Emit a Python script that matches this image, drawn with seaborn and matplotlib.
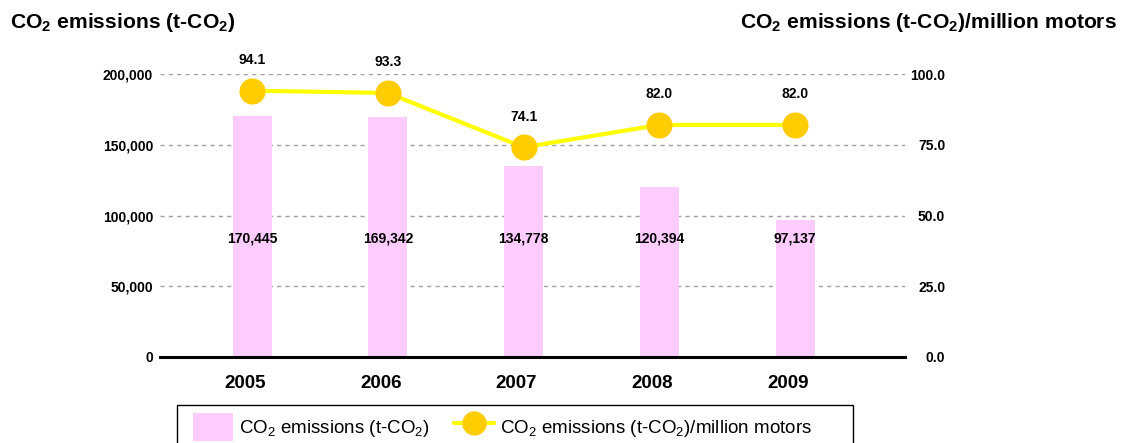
import matplotlib
matplotlib.use("Agg")
import matplotlib.pyplot as plt
import matplotlib.transforms as mtransforms
import seaborn as sns
import pandas as pd
from matplotlib.patches import Patch, Rectangle
from matplotlib.lines import Line2D

years = ["2005", "2006", "2007", "2008", "2009"]
emissions = [170445, 169342, 134778, 120394, 97137]
per_motor = [94.1, 93.3, 74.1, 82.0, 82.0]
left_ticks = [0, 50000, 100000, 150000, 200000]
right_ticks = [0, 25, 50, 75, 100]

BAR_COLOR = "#FFCCFF"
LINE_COLOR = "#FFFF00"
MARKER_COLOR = "#FFCC00"
W, H = 1127, 443


def plot_chart():
    sns.set_theme(style="white")
    plt.rcParams["font.family"] = ["Liberation Sans", "DejaVu Sans"]
    plt.rcParams["mathtext.default"] = "regular"
    for k in ("text.color", "axes.labelcolor", "xtick.color", "ytick.color"):
        plt.rcParams[k] = "black"

    df = pd.DataFrame({"year": years, "emissions": emissions, "per_motor": per_motor})

    fig = plt.figure(figsize=(W / 100, H / 100), dpi=100)
    ax1 = fig.add_axes([160 / W, 1 - 357 / H, 745 / W, (357 - 74) / H])
    ax2 = ax1.twinx()

    sns.barplot(data=df, x="year", y="emissions", ax=ax1, color=BAR_COLOR,
                width=0.287, saturation=1, errorbar=None, zorder=2)
    for b in ax1.patches:
        b.set_edgecolor("none")

    sns.pointplot(data=df, x="year", y="per_motor", ax=ax2, color=LINE_COLOR,
                  errorbar=None, markersize=16.5, linewidth=3,
                  markerfacecolor=MARKER_COLOR, markeredgecolor=MARKER_COLOR)

    ax1.set_xlim(-0.678, 4.81)
    ax1.set_ylim(0, 200000)
    ax2.set_ylim(0, 100)

    ax1.set_yticks(left_ticks)
    ax1.set_yticklabels([f"{v:,}" for v in left_ticks])
    ax2.set_yticks(right_ticks)
    ax2.set_yticklabels([f"{v:.1f}" for v in right_ticks])
    ax1.tick_params(axis="y", length=0, pad=5, labelsize=10)
    ax2.tick_params(axis="y", length=0, pad=29, labelsize=10)
    for t in ax1.get_yticklabels() + ax2.get_yticklabels():
        t.set_fontweight("bold")
    for t in ax2.get_yticklabels():
        t.set_horizontalalignment("right")
    ax1.tick_params(axis="x", length=0, pad=13, labelsize=13.5)
    shift = mtransforms.ScaledTranslation(-7 / 100, 0, fig.dpi_scale_trans)
    for t in ax1.get_xticklabels():
        t.set_fontweight("bold")
        t.set_transform(t.get_transform() + shift)

    ax1.set_xlabel("")
    ax1.set_ylabel("")
    ax2.set_ylabel("")
    ax1.yaxis.grid(True, linestyle=(0, (3, 3)), color="#A0A0A0", linewidth=1)
    ax1.set_axisbelow(True)
    for ax in (ax1, ax2):
        for s in ("top", "left", "right"):
            ax.spines[s].set_visible(False)
    ax2.spines["bottom"].set_visible(False)
    ax1.spines["bottom"].set_color("black")
    ax1.spines["bottom"].set_linewidth(2.2)
    ax1.spines["bottom"].set_zorder(5)

    for i, v in enumerate(emissions):
        ax1.text(i, 0.42, f"{v:,}", transform=ax1.get_xaxis_transform(),
                 ha="center", va="center", fontsize=10, fontweight="bold", zorder=6)
    for i, v in enumerate(per_motor):
        ax2.annotate(f"{v:.1f}", (i, v), xytext=(0, 22), textcoords="offset points",
                     ha="center", va="center", fontsize=10, fontweight="bold",
                     annotation_clip=False)

    fig.text(10 / W, 1 - 23 / H, "CO$_2$ emissions (t-CO$_2$)",
             ha="left", va="center", fontsize=15.2, fontweight="bold")
    fig.text(1117 / W, 1 - 23 / H, "CO$_2$ emissions (t-CO$_2$)/million motors",
             ha="right", va="center", fontsize=15.2, fontweight="bold")

    # legend box, open at the bottom edge like the reference crop
    fig.patches.append(Rectangle((177 / W, -0.05), (853 - 177) / W, 0.05 + 1 - 405 / H,
                                 transform=fig.transFigure, facecolor="white",
                                 edgecolor="black", linewidth=1, zorder=1))
    handles = [
        Patch(facecolor=BAR_COLOR, edgecolor="none"),
        Line2D([0], [0], color=LINE_COLOR, linewidth=3, marker="o", markersize=16.5,
               markerfacecolor=MARKER_COLOR, markeredgecolor=MARKER_COLOR),
    ]
    labels = ["CO$_2$ emissions (t-CO$_2$)", "CO$_2$ emissions (t-CO$_2$)/million motors"]
    fig.legend(handles, labels, loc="upper left",
               bbox_to_anchor=(185 / W, 1 - 405 / H), ncol=2,
               frameon=False, fontsize=13.5, borderaxespad=0,
               handlelength=2.15, handleheight=1.9, handletextpad=0.3,
               columnspacing=1.3, borderpad=0.43)

    fig.savefig("out.png", dpi=100)


if __name__ == "__main__":
    plot_chart()
